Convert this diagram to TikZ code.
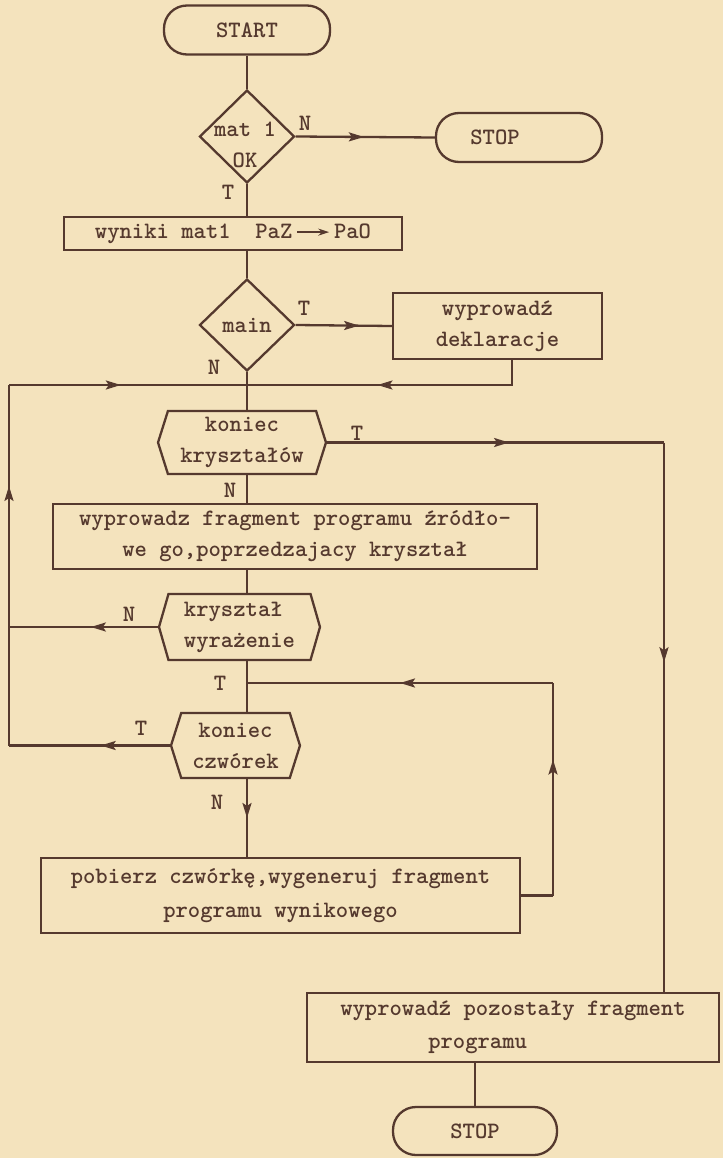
\documentclass[tikz,border=0pt]{standalone}
\usetikzlibrary{shapes.geometric,shapes.symbols,arrows.meta,decorations.markings,calc}
\definecolor{paper}{HTML}{F4E3BD}
\definecolor{ink}{HTML}{55392E}
\newcommand{\inarrow}{\tikz[baseline=-0.6ex]\draw[color=ink,line width=1.8pt,-{Stealth[length=11pt,width=7pt]}] (0pt,0pt) -- (32pt,0pt);}
\begin{document}
\begin{tikzpicture}[x=1pt,y=-1pt,line width=2.3pt,draw=ink,text=ink,
  font=\ttfamily\bfseries\fontsize{23.5}{31}\selectfont,
  box/.style={draw,rectangle,inner sep=0pt,align=center},
  term/.style={draw,rectangle,rounded corners=23pt,inner sep=0pt},
  dec/.style={draw,diamond,inner sep=0pt},
  hex/.style={draw,signal,signal to=east and west,signal pointer angle=#1,inner sep=0pt,align=center},
  lbl/.style={inner sep=0pt},
  ma/.style={postaction={decorate},decoration={markings,mark=at position #1 with {\arrow{Stealth[length=15pt,width=9pt,inset=3pt]}}}}]
\fill[paper] (0,0) rectangle (723,1158);
\useasboundingbox (0,0) rectangle (723,1158);

% nodes
\node[term,minimum width=166pt,minimum height=49pt] (start) at (247,30) {START};
\node[dec,minimum width=95pt,minimum height=93pt] (d1) at (247,136.5) {};
\node[lbl,align=center] (d1t) at (245,145) {mat 1\\OK};
\node[term,minimum width=166pt,minimum height=49pt] (stop1) at (519,137.5) {\hspace*{-48pt}STOP};
\node[box,minimum width=338pt,minimum height=33pt] (box1) at (233,233.5) {wyniki mat1~~PaZ\,\inarrow\,PaO};
\node[dec,minimum width=95pt,minimum height=92pt] (d2) at (247,325) {};
\node[lbl] (d2t) at (d2) {main};
\node[box,minimum width=209pt,minimum height=66pt] (dekl) at (497.5,326) {wyprowadź\\deklaracje};
\node[hex=145,minimum width=168pt,minimum height=63pt] (hex1) at (242,442.5) {koniec\\kryształów};
\node[box,minimum width=484pt,minimum height=65pt] (box2) at (295,536.5) {wyprowadz fragment programu źródło-\\we go,poprzedzajacy kryształ};
\node[hex=148,minimum width=161pt,minimum height=66pt,align=left] (hex2) at (239.5,627) {kryształ\\wyrażenie};
\node[hex=145,minimum width=129pt,minimum height=65pt] (hex3) at (235.5,745.5) {koniec\\czwórek};
\node[box,minimum width=479pt,minimum height=75pt,font=\ttfamily\bfseries\fontsize{23.5}{34}\selectfont] (box3) at (280.5,895.5) {pobierz czwórkę,wygeneruj fragment\\programu wynikowego};
\node[box,minimum width=412pt,minimum height=69pt,align=left,font=\ttfamily\bfseries\fontsize{23.5}{33}\selectfont] (box4) at (513,1027.5) {wyprowadź pozostały fragment\\\hspace*{88pt}programu};
\node[term,minimum width=164pt,minimum height=48pt] (stop2) at (475,1131) {STOP};

% coordinates
\coordinate (j1) at (247,385);
\coordinate (j2) at (247,683);
\coordinate (cl) at (9,385);
\coordinate (cr) at (664,445);
\coordinate (c7) at (553,683);

% connectors
\draw (start) -- (d1);
\draw[ma=0.49] (d1.east) -- (stop1.west);
\draw (d1.south) -- (d1.south |- box1.north);
\draw (box1.south -| d2.north) -- (d2.north);
\draw[ma=0.66] (d2.east) -- (dekl.west);
\draw (d2.south) -- (j1);
\draw[ma=0.55] ($(dekl.south)+(14.5,0)$) |- (j1);
\draw (j1) -- (j1 |- hex1.north);
\draw[ma=0.54] (hex1.east) -- (hex1.east -| cr);
\draw[ma=0.40] (hex1.east -| cr) -- (cr |- box4.north);
\draw (j1 |- hex1.south) -- (j1 |- box2.north);
\draw (j1 |- box2.south) -- (j1 |- hex2.north);
\draw[ma=0.45] (hex2.west) -- (hex2.west -| cl);
\draw (j1 |- hex2.south) -- (j1 |- hex3.north);
\draw[ma=0.43] (hex3.west) -- (hex3.west -| cl);
\draw[ma=0.72] (hex3.west -| cl) -- (cl);
\draw[ma=0.47] (cl) -- (j1);
\draw[ma=0.5] (j1 |- hex3.south) -- (j1 |- box3.north);
\draw (box3.east) -- (box3.east -| c7);
\draw[ma=0.64] (box3.east -| c7) -- (c7);
\draw[ma=0.5] (c7) -- (j2);
\draw (box4.south -| stop2.north) -- (stop2.north);

% branch labels
\node[lbl] (l1) at (305,123) {N};
\node[lbl] (l2) at (228,192) {T};
\node[lbl] (l3) at (304,308) {T};
\node[lbl] (l4) at (214,367) {N};
\node[lbl] (l5) at (357,433) {T};
\node[lbl] (l6) at (230,490) {N};
\node[lbl] (l7) at (129,614) {N};
\node[lbl] (l8) at (220,683) {T};
\node[lbl] (l9) at (141,728) {T};
\node[lbl] (l10) at (217,802) {N};
\end{tikzpicture}
\end{document}
